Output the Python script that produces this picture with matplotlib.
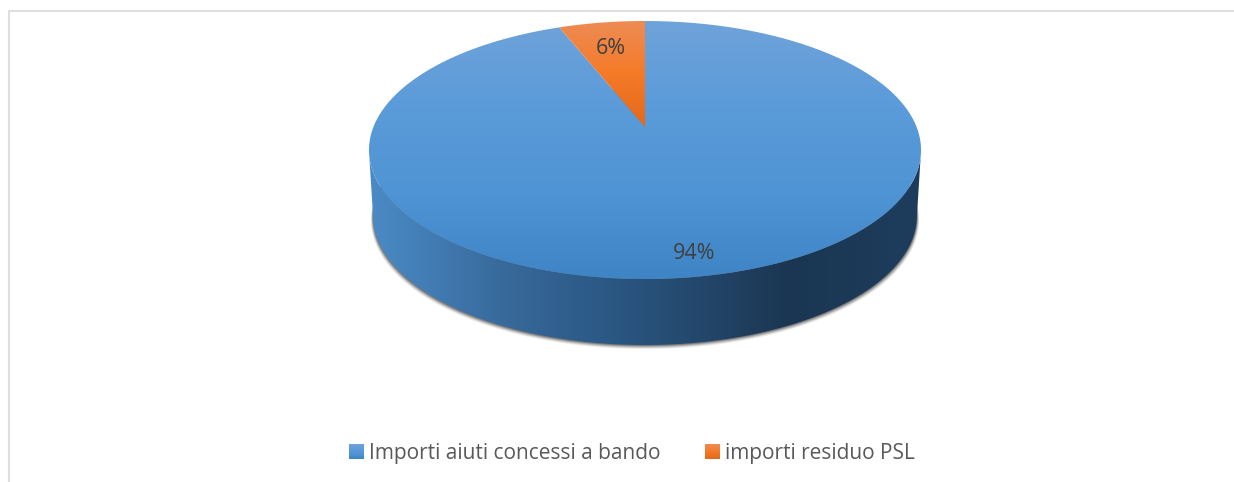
import numpy as np
import matplotlib
matplotlib.use("Agg")
import matplotlib.pyplot as plt
from matplotlib.colors import LinearSegmentedColormap
from matplotlib.patches import Patch, Polygon

plt.rcParams['font.family'] = ['Open Sans', 'DejaVu Sans']

categorie = ["Importi aiuti concessi a bando", "importi residuo PSL"]
valori = [94, 6]

# gradienti (alto -> basso)
grad_blu = LinearSegmentedColormap.from_list("blu", ["#6fa3da", "#5b9bd9", "#4f94d4", "#3f84c5"])
grad_ara = LinearSegmentedColormap.from_list("ara", ["#ee8c55", "#f47a28", "#e4691a"])
# fianco della torta (sinistra -> destra)
grad_lato = LinearSegmentedColormap.from_list(
    "lato", [(0, "#4a8bc6"), (0.25, "#37699a"), (0.45, "#2a5682"),
             (0.62, "#234568"), (0.76, "#1a3652"), (1, "#1e3d5d")])

# prospettiva del disco: centro, semiasse, fuga
cx, k, c, a, b = 645.0, 271.6, 0.1783, -102.26, 127.0
spessore = 66


def proietta(u, v):
    w = 1 + c * v
    return cx + k * u / w, (a * v + b) / w


def settore(t0, t1):
    # angoli in senso orario dalle ore 12
    t = np.linspace(t0, t1, 200)
    x, y = proietta(np.sin(t), np.cos(t))
    return np.r_[cx, x], np.r_[b, y]


def sfuma(ax, cmap, patch_xy, vert=True):
    pg = Polygon(np.c_[patch_xy], closed=True, fc="none", ec="none")
    ax.add_patch(pg)
    x0, x1 = patch_xy[0].min(), patch_xy[0].max()
    y0, y1 = patch_xy[1].min(), patch_xy[1].max()
    g = np.linspace(0, 1, 256)
    g = g[:, None] if vert else g[None, :]
    im = ax.imshow(g, cmap=cmap, extent=[x0, x1, y1, y0], aspect="auto",
                   interpolation="bilinear", zorder=pg.get_zorder())
    im.set_clip_path(pg)
    return im


fig = plt.figure(figsize=(12.34, 4.82), dpi=100)
ax = fig.add_axes([0, 0, 1, 1])

# cornice
ax.plot([9, 9, 1234], [482, 11, 11], color="#dfdfdf", lw=1.5, zorder=1)

# contorno completo del disco superiore e inferiore
t = np.linspace(0, 2 * np.pi, 720)
xt, yt = proietta(np.sin(t), np.cos(t))
xb = cx + (xt - cx) * 0.985
yb = yt + spessore

# ombra
for extra, alfa in zip([4, 3, 2, 1], [0.10, 0.16, 0.24, 0.35]):
    ax.add_patch(Polygon(np.c_[cx + (xb - cx) * (1 + extra / 500), yb + extra],
                         closed=True, fc="#303030", ec="none", alpha=alfa, zorder=2))

# fianco
fronte = (np.cos(t) < -c)
ord_f = np.argsort(np.sin(t[fronte]))
xf, yf = xt[fronte][ord_f], yt[fronte][ord_f]
xg, yg = xb[fronte][ord_f], yb[fronte][ord_f]
lato = sfuma(ax, grad_lato, (np.r_[xf, xg[::-1]], np.r_[yf, yg[::-1]]), vert=False)
lato.set_zorder(3)

# spicchi in proporzione ai valori
angolo = 2 * np.pi * np.cumsum([0] + valori) / sum(valori)
cmap_sp = [grad_blu, grad_ara]
for i in range(len(valori)):
    im = sfuma(ax, cmap_sp[i], settore(angolo[i], angolo[i + 1]))
    im.set_zorder(4 + i)

# etichette percentuali
raggi = [0.865, 0.736]
for i, v in enumerate(valori):
    m = (angolo[i] + angolo[i + 1]) / 2
    lx, ly = proietta(raggi[i] * np.sin(m), raggi[i] * np.cos(m))
    ax.text(lx - 3 * (i == 0) - 1 * (i == 1), ly + 1, f"{v / sum(valori) * 100:.0f}%", ha="center", va="center",
            fontsize=15.5, color="#404040", zorder=8)

ax.set_xlim(0, 1234)
ax.set_ylim(482, 0)
ax.axis("off")

# legenda
maniglie = [Patch(fc="#5596d6", ec="none"), Patch(fc="#f07a2c", ec="none")]
leg = ax.legend(maniglie, categorie, loc="center", bbox_to_anchor=(632 / 1234, 1 - 453 / 482),
                ncol=2, frameon=False, fontsize=15, labelcolor="#595959", handlelength=0.72,
                handleheight=0.72, handletextpad=0.25, columnspacing=2.1)

# sfumatura sui quadratini della legenda
fig.canvas.draw()
for h, cm in zip(leg.legend_handles, cmap_sp):
    box = h.get_window_extent().transformed(ax.transData.inverted())
    ax.imshow(np.linspace(0, 1, 32)[:, None], cmap=cm, aspect="auto", zorder=10,
              extent=[box.x0, box.x1, max(box.y0, box.y1), min(box.y0, box.y1)])
ax.set_xlim(0, 1234)
ax.set_ylim(482, 0)

fig.savefig("out.png", dpi=100)
